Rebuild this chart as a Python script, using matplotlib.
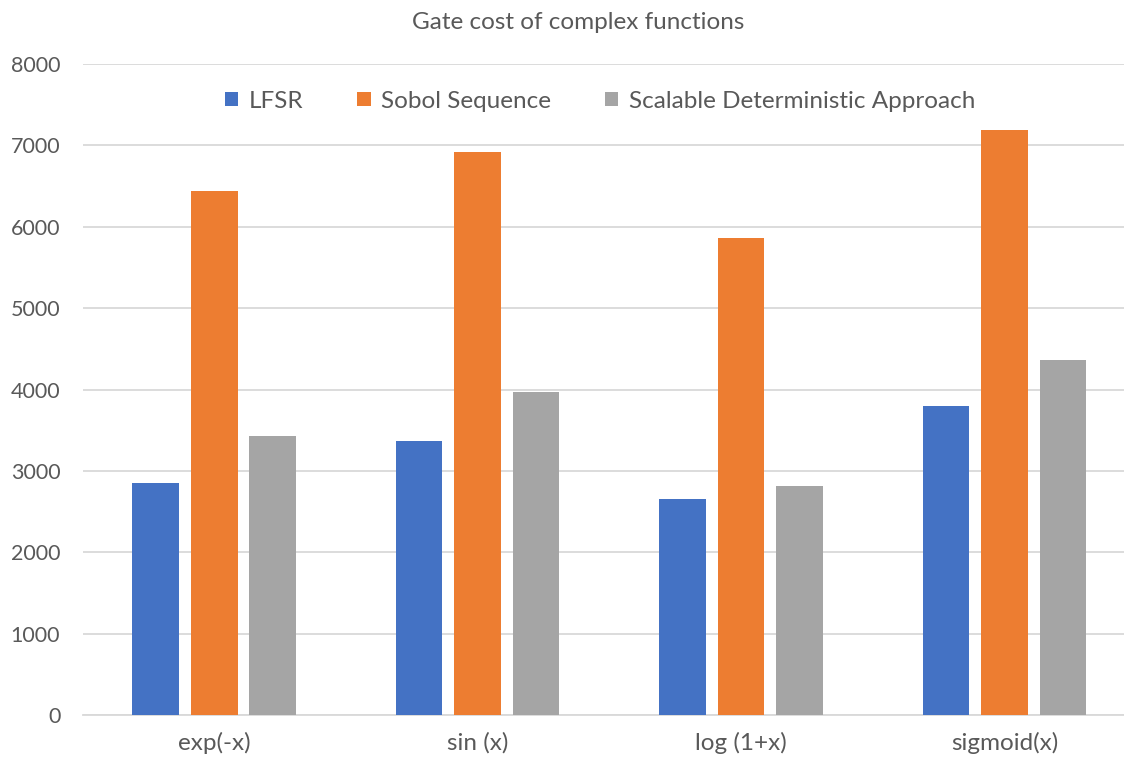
import numpy as np
import matplotlib.pyplot as plt
from matplotlib.patches import Patch

plt.rcParams['font.family'] = ['Lato', 'DejaVu Sans']

functions = ['exp(-x)', 'sin (x)', 'log (1+x)', 'sigmoid(x)']
series = ['LFSR', 'Sobol Sequence', 'Scalable Deterministic Approach']
lfsr = [2850, 3370, 2650, 3800]
sobol = [6440, 6920, 5860, 7190]
sda = [3430, 3970, 2820, 4360]
colors = ['#4472C4', '#ED7D31', '#A5A5A5']
yticks = [0, 1000, 2000, 3000, 4000, 5000, 6000, 7000, 8000]

text_col = '#595959'
grid_col = '#D9D9D9'

fig = plt.figure(figsize=(11.24, 7.67), dpi=100)
ax = fig.add_axes([0.0734, 0.0674, 0.9377, 0.8495])

x = np.arange(len(functions))
width = 0.1765
step = 0.222
for i, (vals, col) in enumerate(zip([lfsr, sobol, sda], colors)):
    ax.bar(x + (i - 1) * step, vals, width, color=col, zorder=3)

ax.set_xlim(-0.5, len(functions) - 0.5)
ax.set_ylim(0, 8000)
ax.set_yticks(yticks)
ax.set_yticklabels([str(t) for t in yticks])
ax.set_xticks(x)
ax.set_xticklabels(functions)
ax.tick_params(axis='y', length=0, pad=16, labelsize=15.5, labelcolor=text_col)
ax.tick_params(axis='x', length=0, pad=12, labelsize=17.5, labelcolor=text_col)

ax.grid(axis='y', color=grid_col, lw=1.3, zorder=0)
for s in ['top', 'right', 'left']:
    ax.spines[s].set_visible(False)
ax.spines['bottom'].set_color(grid_col)
ax.spines['bottom'].set_linewidth(1.3)

fig.text(0.5145, 0.971, 'Gate cost of complex functions', ha='center', va='center',
         fontsize=17.5, color=text_col)

handles = [Patch(facecolor=c, edgecolor='none') for c in colors]
fig.legend(handles, series, loc='center', bbox_to_anchor=(0.534, 0.868), ncol=3,
           frameon=False, fontsize=17.5, labelcolor=text_col,
           handlelength=0.55, handleheight=0.55, handletextpad=0.45, columnspacing=2.2)

fig.savefig('out.png', dpi=100)
